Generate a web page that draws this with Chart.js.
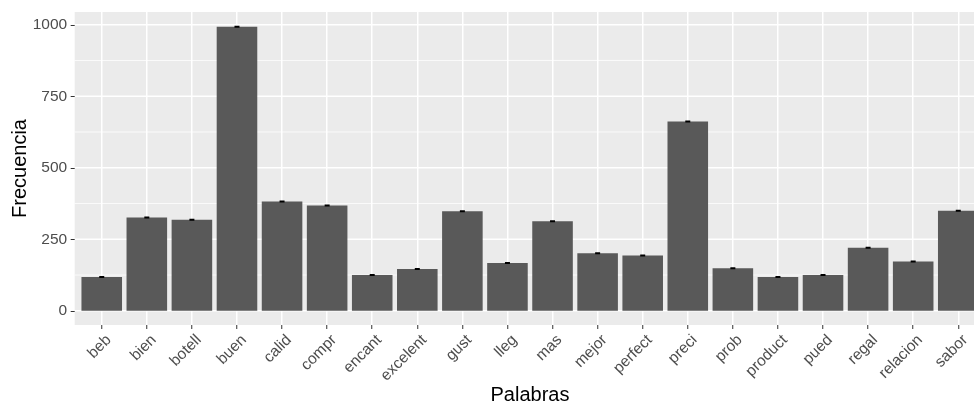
<!DOCTYPE html>
<html>
<head>
<meta charset="utf-8">
<script src="https://cdn.jsdelivr.net/npm/chart.js@4/dist/chart.umd.min.js"></script>
<style>
html,body{margin:0;padding:0;background:#fff;overflow:hidden;width:974px;height:403px;}
canvas{display:block;}
</style>
</head>
<body>
<canvas id="c" width="996" height="403"></canvas>
<script>
const categories = ["beb","bien","botell","buen","calid","compr","encant","excelent","gust","lleg","mas","mejor","perfect","preci","prob","product","pued","regal","relacion","sabor"];
const frecuencia = [118,326,318,993,382,368,125,146,348,167,313,201,193,662,149,118,125,220,172,350];
const yMajor = [0,250,500,750,1000];
const yMinor = [125,375,625,875];

// ggplot-style panel: background + y grid extended 0.6 category units beyond outer category centres
const panel = {
  id:'panel',
  beforeDraw(chart){
    const a = chart.chartArea, ctx = chart.ctx;
    const xs = chart.scales.x, ys = chart.scales.y;
    const step = xs.getPixelForValue(1) - xs.getPixelForValue(0);
    const L = xs.getPixelForValue(0) - 0.6 * step;
    const R = xs.getPixelForValue(categories.length - 1) + 0.6 * step;
    ctx.save();
    ctx.fillStyle = '#EBEBEB';
    ctx.fillRect(L, a.top, R - L, a.bottom - a.top);
    ctx.strokeStyle = '#FFFFFF';
    ctx.lineWidth = 0.75;
    yMinor.forEach(v => {
      const y = ys.getPixelForValue(v);
      ctx.beginPath(); ctx.moveTo(L, y); ctx.lineTo(R, y); ctx.stroke();
    });
    ctx.lineWidth = 1.5;
    yMajor.forEach(v => {
      const y = ys.getPixelForValue(v);
      ctx.beginPath(); ctx.moveTo(L, y); ctx.lineTo(R, y); ctx.stroke();
    });
    ctx.strokeStyle = '#333333';
    ctx.lineWidth = 1;
    yMajor.forEach(v => {
      const y = Math.round(ys.getPixelForValue(v)) + 0.5;
      ctx.beginPath(); ctx.moveTo(L - 4, y); ctx.lineTo(L, y); ctx.stroke();
    });
    ctx.restore();
  }
};

const FONT = "'Liberation Sans', Arial, sans-serif";

new Chart(document.getElementById('c'), {
  data: {
    labels: categories,
    datasets: [
      {
        type: 'line',
        data: frecuencia,
        showLine: false,
        pointStyle: 'line',
        pointRadius: 2.5,
        pointBorderWidth: 2,
        pointBorderColor: '#000000',
        pointBackgroundColor: '#000000',
        order: 0
      },
      {
        type: 'bar',
        data: frecuencia,
        backgroundColor: '#595959',
        borderWidth: 0,
        categoryPercentage: 1,
        barPercentage: 0.9,
        order: 1
      }
    ]
  },
  options: {
    responsive: false,
    animation: false,
    events: [],
    layout: { padding: { left: 5, top: 12, right: 996 - 980.8, bottom: 0 } },
    plugins: { legend: { display: false }, tooltip: { enabled: false } },
    scales: {
      x: {
        type: 'category',
        offset: true,
        border: { display: false },
        grid: {
          offset: false,
          color: '#FFFFFF',
          lineWidth: 1.5,
          drawTicks: true,
          tickLength: 4,
          tickColor: '#333333',
          tickWidth: 1
        },
        ticks: {
          maxRotation: 45,
          minRotation: 45,
          autoSkip: false,
          padding: 2,
          labelOffset: 7,
          color: '#4D4D4D',
          font: { family: FONT, size: 15.5 }
        },
        title: {
          display: true,
          text: 'Palabras',
          color: '#000000',
          font: { family: FONT, size: 20 },
          padding: { top: 0, bottom: -4 }
        },
        afterFit(s){ s.height = 403 - 325; s.paddingLeft = 0; s.paddingRight = 0; }
      },
      y: {
        type: 'linear',
        min: -49.7,
        max: 1044.5,
        border: { display: false },
        afterBuildTicks(s){ s.ticks = yMajor.map(v => ({ value: v })); },
        grid: { display: false, drawTicks: false },
        ticks: {
          padding: 12,
          color: '#4D4D4D',
          font: { family: FONT, size: 15.5 },
          callback: v => String(v)
        },
        title: {
          display: true,
          text: 'Frecuencia',
          color: '#000000',
          font: { family: FONT, size: 20 },
          padding: { top: 3, bottom: 0 }
        },
        afterFit(s){ s.width = 79.2 - 5; s.paddingTop = 0; s.paddingBottom = 0; }
      }
    }
  },
  plugins: [panel]
});
</script>
</body>
</html>
